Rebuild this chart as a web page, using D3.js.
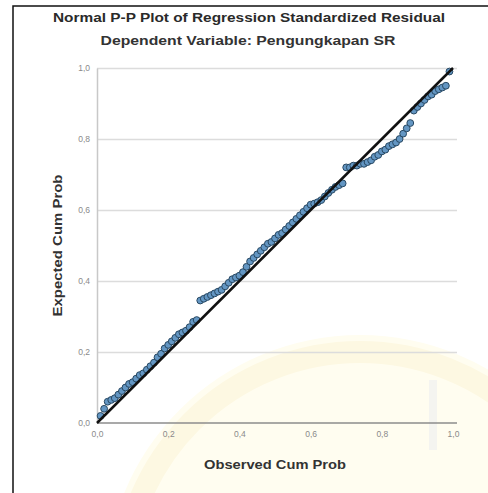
<!DOCTYPE html>
<html>
<head>
  <meta charset="utf-8">
  <title>Normal P-P Plot</title>
  <style>
    body { margin: 0; background: #fff; }
    text { font-family: "Liberation Sans", Arial, sans-serif; }
  </style>
</head>
<body>
  <div id="plot"></div>
  <script src="https://cdn.jsdelivr.net/npm/d3@7"></script>
  <script>
    // data
    const observed = [
      0.01, 0.02, 0.03, 0.04, 0.05, 0.06, 0.07, 0.08, 0.09, 0.10,
      0.11, 0.12, 0.13, 0.14, 0.15, 0.16, 0.17, 0.18, 0.19, 0.20,
      0.21, 0.22, 0.23, 0.24, 0.25, 0.26, 0.27, 0.28, 0.29, 0.30,
      0.31, 0.32, 0.33, 0.34, 0.35, 0.36, 0.37, 0.38, 0.39, 0.40,
      0.41, 0.42, 0.43, 0.44, 0.45, 0.46, 0.47, 0.48, 0.49, 0.50,
      0.51, 0.52, 0.53, 0.54, 0.55, 0.56, 0.57, 0.58, 0.59, 0.60,
      0.61, 0.62, 0.63, 0.64, 0.65, 0.66, 0.67, 0.68, 0.69, 0.70,
      0.71, 0.72, 0.73, 0.74, 0.75, 0.76, 0.77, 0.78, 0.79, 0.80,
      0.81, 0.82, 0.83, 0.84, 0.85, 0.86, 0.87, 0.88, 0.89, 0.90,
      0.91, 0.92, 0.93, 0.94, 0.95, 0.96, 0.97, 0.98, 0.99
    ];
    const expected = [
      0.020, 0.040, 0.060, 0.065, 0.070, 0.080, 0.090, 0.100, 0.110, 0.115,
      0.125, 0.135, 0.140, 0.150, 0.160, 0.170, 0.185, 0.195, 0.210, 0.220,
      0.230, 0.240, 0.250, 0.255, 0.260, 0.270, 0.285, 0.290, 0.345, 0.350,
      0.355, 0.360, 0.365, 0.370, 0.375, 0.385, 0.395, 0.405, 0.410, 0.415,
      0.425, 0.440, 0.455, 0.465, 0.475, 0.485, 0.495, 0.505, 0.510, 0.520,
      0.530, 0.535, 0.545, 0.555, 0.565, 0.575, 0.585, 0.595, 0.605, 0.615,
      0.618, 0.622, 0.628, 0.638, 0.648, 0.657, 0.665, 0.670, 0.675, 0.720,
      0.720, 0.725, 0.725, 0.730, 0.730, 0.735, 0.740, 0.750, 0.755, 0.765,
      0.770, 0.780, 0.785, 0.790, 0.800, 0.815, 0.830, 0.845, 0.880, 0.890,
      0.900, 0.910, 0.920, 0.925, 0.935, 0.940, 0.945, 0.950, 0.990
    ];
    const ticks = [0, 0.2, 0.4, 0.6, 0.8, 1.0];
    const title = 'Normal P-P Plot of Regression Standardized Residual';
    const subtitle = 'Dependent Variable: Pengungkapan SR';

    const points = observed.map((d, i) => ({ x: d, y: expected[i] }));

    function translate(x, y) {
      return 'translate(' + x + ',' + y + ')';
    }

    const svgWidth = 488, svgHeight = 493;
    const margin = { top: 68, left: 97 };
    const width = 356, height = 355;

    const svg = d3.select('#plot')
      .append('svg')
        .attr('width', svgWidth)
        .attr('height', svgHeight);

    // faint watermark of the page behind the chart
    const wm = svg.append('g');
    wm.append('circle')
      .attr('cx', 360).attr('cy', 590).attr('r', 255)
      .attr('fill', '#fffdf0');
    wm.append('circle')
      .attr('cx', 360).attr('cy', 590).attr('r', 238)
      .attr('fill', 'none').attr('stroke', '#fdf8e2').attr('stroke-width', 22);
    wm.append('line')
      .attr('x1', 433).attr('y1', 380).attr('x2', 433).attr('y2', 450)
      .attr('stroke', '#f4f4f0').attr('stroke-width', 8);

    // frame round the picture
    svg.append('rect')
      .attr('x', 13).attr('y', 6)
      .attr('width', 480).attr('height', 500)
      .attr('fill', 'none')
      .attr('stroke', '#111')
      .attr('stroke-width', 1.5);

    // comma decimal, as in the output
    const fmt = d3.formatLocale({ decimal: ',', thousands: '.', grouping: [3], currency: ['', ''] }).format('.1f');

    const x = d3.scaleLinear().domain([0, 1]).range([0, width]);
    const y = d3.scaleLinear().domain([0, 1]).range([height, 0]);

    const g = svg.append('g').attr('transform', translate(margin.left, margin.top));

    // horizontal grid
    g.append('g')
      .call(d3.axisLeft(y).tickValues(ticks.slice(1)).tickSize(-(width + 4)).tickFormat(''))
      .call(s => s.select('.domain').remove())
      .call(s => s.selectAll('line').attr('stroke', '#dcdcdc').attr('stroke-width', 1.5));

    // y axis
    g.append('g')
      .call(d3.axisLeft(y).tickValues(ticks).tickSize(0).tickPadding(7).tickFormat(fmt))
      .call(s => s.select('.domain').attr('stroke', '#c8c8c8').attr('stroke-width', 1.5))
      .call(s => s.selectAll('text').attr('fill', '#8a8a8a').style('font-size', '8.5px'));

    // x axis
    g.append('g')
      .attr('transform', translate(0, height))
      .call(d3.axisBottom(x).tickValues(ticks).tickSize(0).tickPadding(8).tickFormat(fmt))
      .call(s => s.select('.domain').attr('d', 'M0,0H' + (width + 4)).attr('stroke', '#8c8c8c').attr('stroke-width', 1.5))
      .call(s => s.selectAll('text').attr('fill', '#8a8a8a').style('font-size', '8.5px'));

    // points
    g.selectAll('circle')
      .data(points)
      .enter()
        .append('circle')
        .attr('cx', d => x(d.x))
        .attr('cy', d => y(d.y))
        .attr('r', 3.4)
        .attr('fill', '#6396c3')
        .attr('stroke', '#284862')
        .attr('stroke-width', 1);

    // reference line
    g.append('line')
      .attr('x1', x(0)).attr('y1', y(0))
      .attr('x2', x(1)).attr('y2', y(1))
      .attr('stroke', '#111')
      .attr('stroke-width', 2.5);

    // titles
    svg.append('text')
      .attr('x', 249).attr('y', 22)
      .attr('text-anchor', 'middle')
      .attr('textLength', 392).attr('lengthAdjust', 'spacingAndGlyphs')
      .style('font-size', '13.5px').style('font-weight', 'bold').attr('fill', '#2a2a2a')
      .text(title);

    svg.append('text')
      .attr('x', 248).attr('y', 45)
      .attr('text-anchor', 'middle')
      .attr('textLength', 295).attr('lengthAdjust', 'spacingAndGlyphs')
      .style('font-size', '13.5px').style('font-weight', 'bold').attr('fill', '#333')
      .text(subtitle);

    svg.append('text')
      .attr('transform', translate(62, margin.top + y(0.5)) + ' rotate(-90)')
      .attr('text-anchor', 'middle')
      .attr('textLength', 142).attr('lengthAdjust', 'spacingAndGlyphs')
      .style('font-size', '13.5px').style('font-weight', 'bold').attr('fill', '#333')
      .text('Expected Cum Prob');

    svg.append('text')
      .attr('x', margin.left + x(0.5)).attr('y', 469)
      .attr('text-anchor', 'middle')
      .attr('textLength', 142).attr('lengthAdjust', 'spacingAndGlyphs')
      .style('font-size', '13.5px').style('font-weight', 'bold').attr('fill', '#333')
      .text('Observed Cum Prob');
  </script>
</body>
</html>
